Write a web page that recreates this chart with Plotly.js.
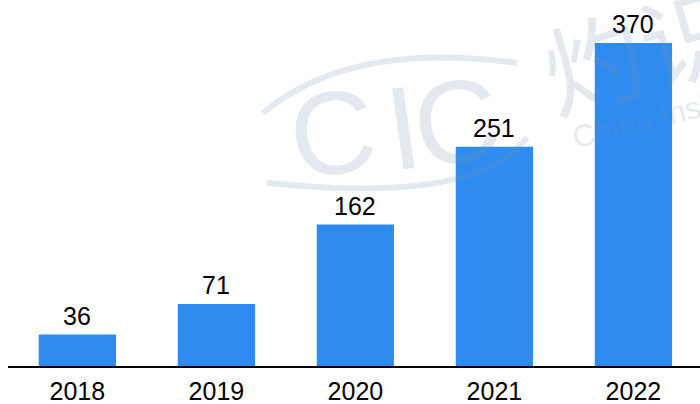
<!DOCTYPE html>
<html><head><meta charset="utf-8">
<script src="https://cdn.plot.ly/plotly-3.0.1.min.js"></script>
<style>html,body{margin:0;padding:0;background:#fff;}#chart{width:700px;height:404px;}</style>
</head><body><div id="chart"></div>
<script>
const years = ['2018','2019','2020','2021','2022'];
const values = [36, 71, 162, 251, 370];
const valueLabels = ['36','71','162','251','370'];

const L = 8, T = 0, W = 692, H = 366;
const px = x => (x - L) / W;
const py = y => (H - (y - T)) / H;
const wm = 'rgba(120,145,175,0.2)';
const wmFont = (s, f) => ({family: f || 'Liberation Sans, Arial', size: s, color: wm});

const annotations = values.map((v, i) => ({
  x: i, y: v, xref: 'x', yref: 'y', text: valueLabels[i], showarrow: false,
  xanchor: 'center', yanchor: 'bottom', yshift: 3,
  font: {family: 'Liberation Sans, Arial, sans-serif', size: 25, color: '#000'}
}));
// watermark
const wmAnn = (x, y, text, angle, font) => ({xref:'paper', yref:'paper', x:px(x), y:py(y), text:text,
  showarrow:false, xanchor:'center', yanchor:'middle', textangle:angle, font:font});
annotations.push(
  wmAnn(332, 133, 'C', -8, wmFont(118)),
  wmAnn(403, 128, 'I', -8, wmFont(118)),
  wmAnn(456, 122, 'C', -8, wmFont(118)),
  wmAnn(668, 114, 'China Insights', -14, wmFont(31)),
  wmAnn(640, 45, '灼识', -16, wmFont(100, 'Noto Sans CJK SC'))
);

const shapes = [
  {type:'path', xref:'paper', yref:'paper', path:`M ${px(263)} ${py(113)} Q ${px(350)} ${py(40)} ${px(517)} ${py(63)}`, line:{color:wm, width:6}},
  {type:'path', xref:'paper', yref:'paper', path:`M ${px(267)} ${py(183)} Q ${px(480)} ${py(205)} ${px(527)} ${py(137)}`, line:{color:wm, width:6}}
];

const trace = {
  type: 'bar', x: years, y: values, width: 0.556,
  marker: {color: '#2e8bef', line: {width: 0}},
  hoverinfo: 'none', cliponaxis: false
};

const layout = {
  width: 700, height: 404,
  margin: {l: L, r: 0, t: T, b: 404 - H - T},
  paper_bgcolor: '#fff', plot_bgcolor: 'rgba(0,0,0,0)',
  showlegend: false,
  xaxis: {type: 'category', range: [-0.499, 4.479], showline: true, linecolor: '#000', linewidth: 1.5,
    ticks: '', ticklabelstandoff: 2, showgrid: false, zeroline: false, fixedrange: true,
    tickfont: {family: 'Liberation Sans, Arial, sans-serif', size: 25, color: '#000'}},
  yaxis: {range: [0, 419.2], visible: false, showgrid: false, zeroline: false, fixedrange: true},
  annotations: annotations,
  shapes: shapes
};

Plotly.newPlot('chart', [trace], layout, {displayModeBar: false, staticPlot: true});
</script></body></html>
